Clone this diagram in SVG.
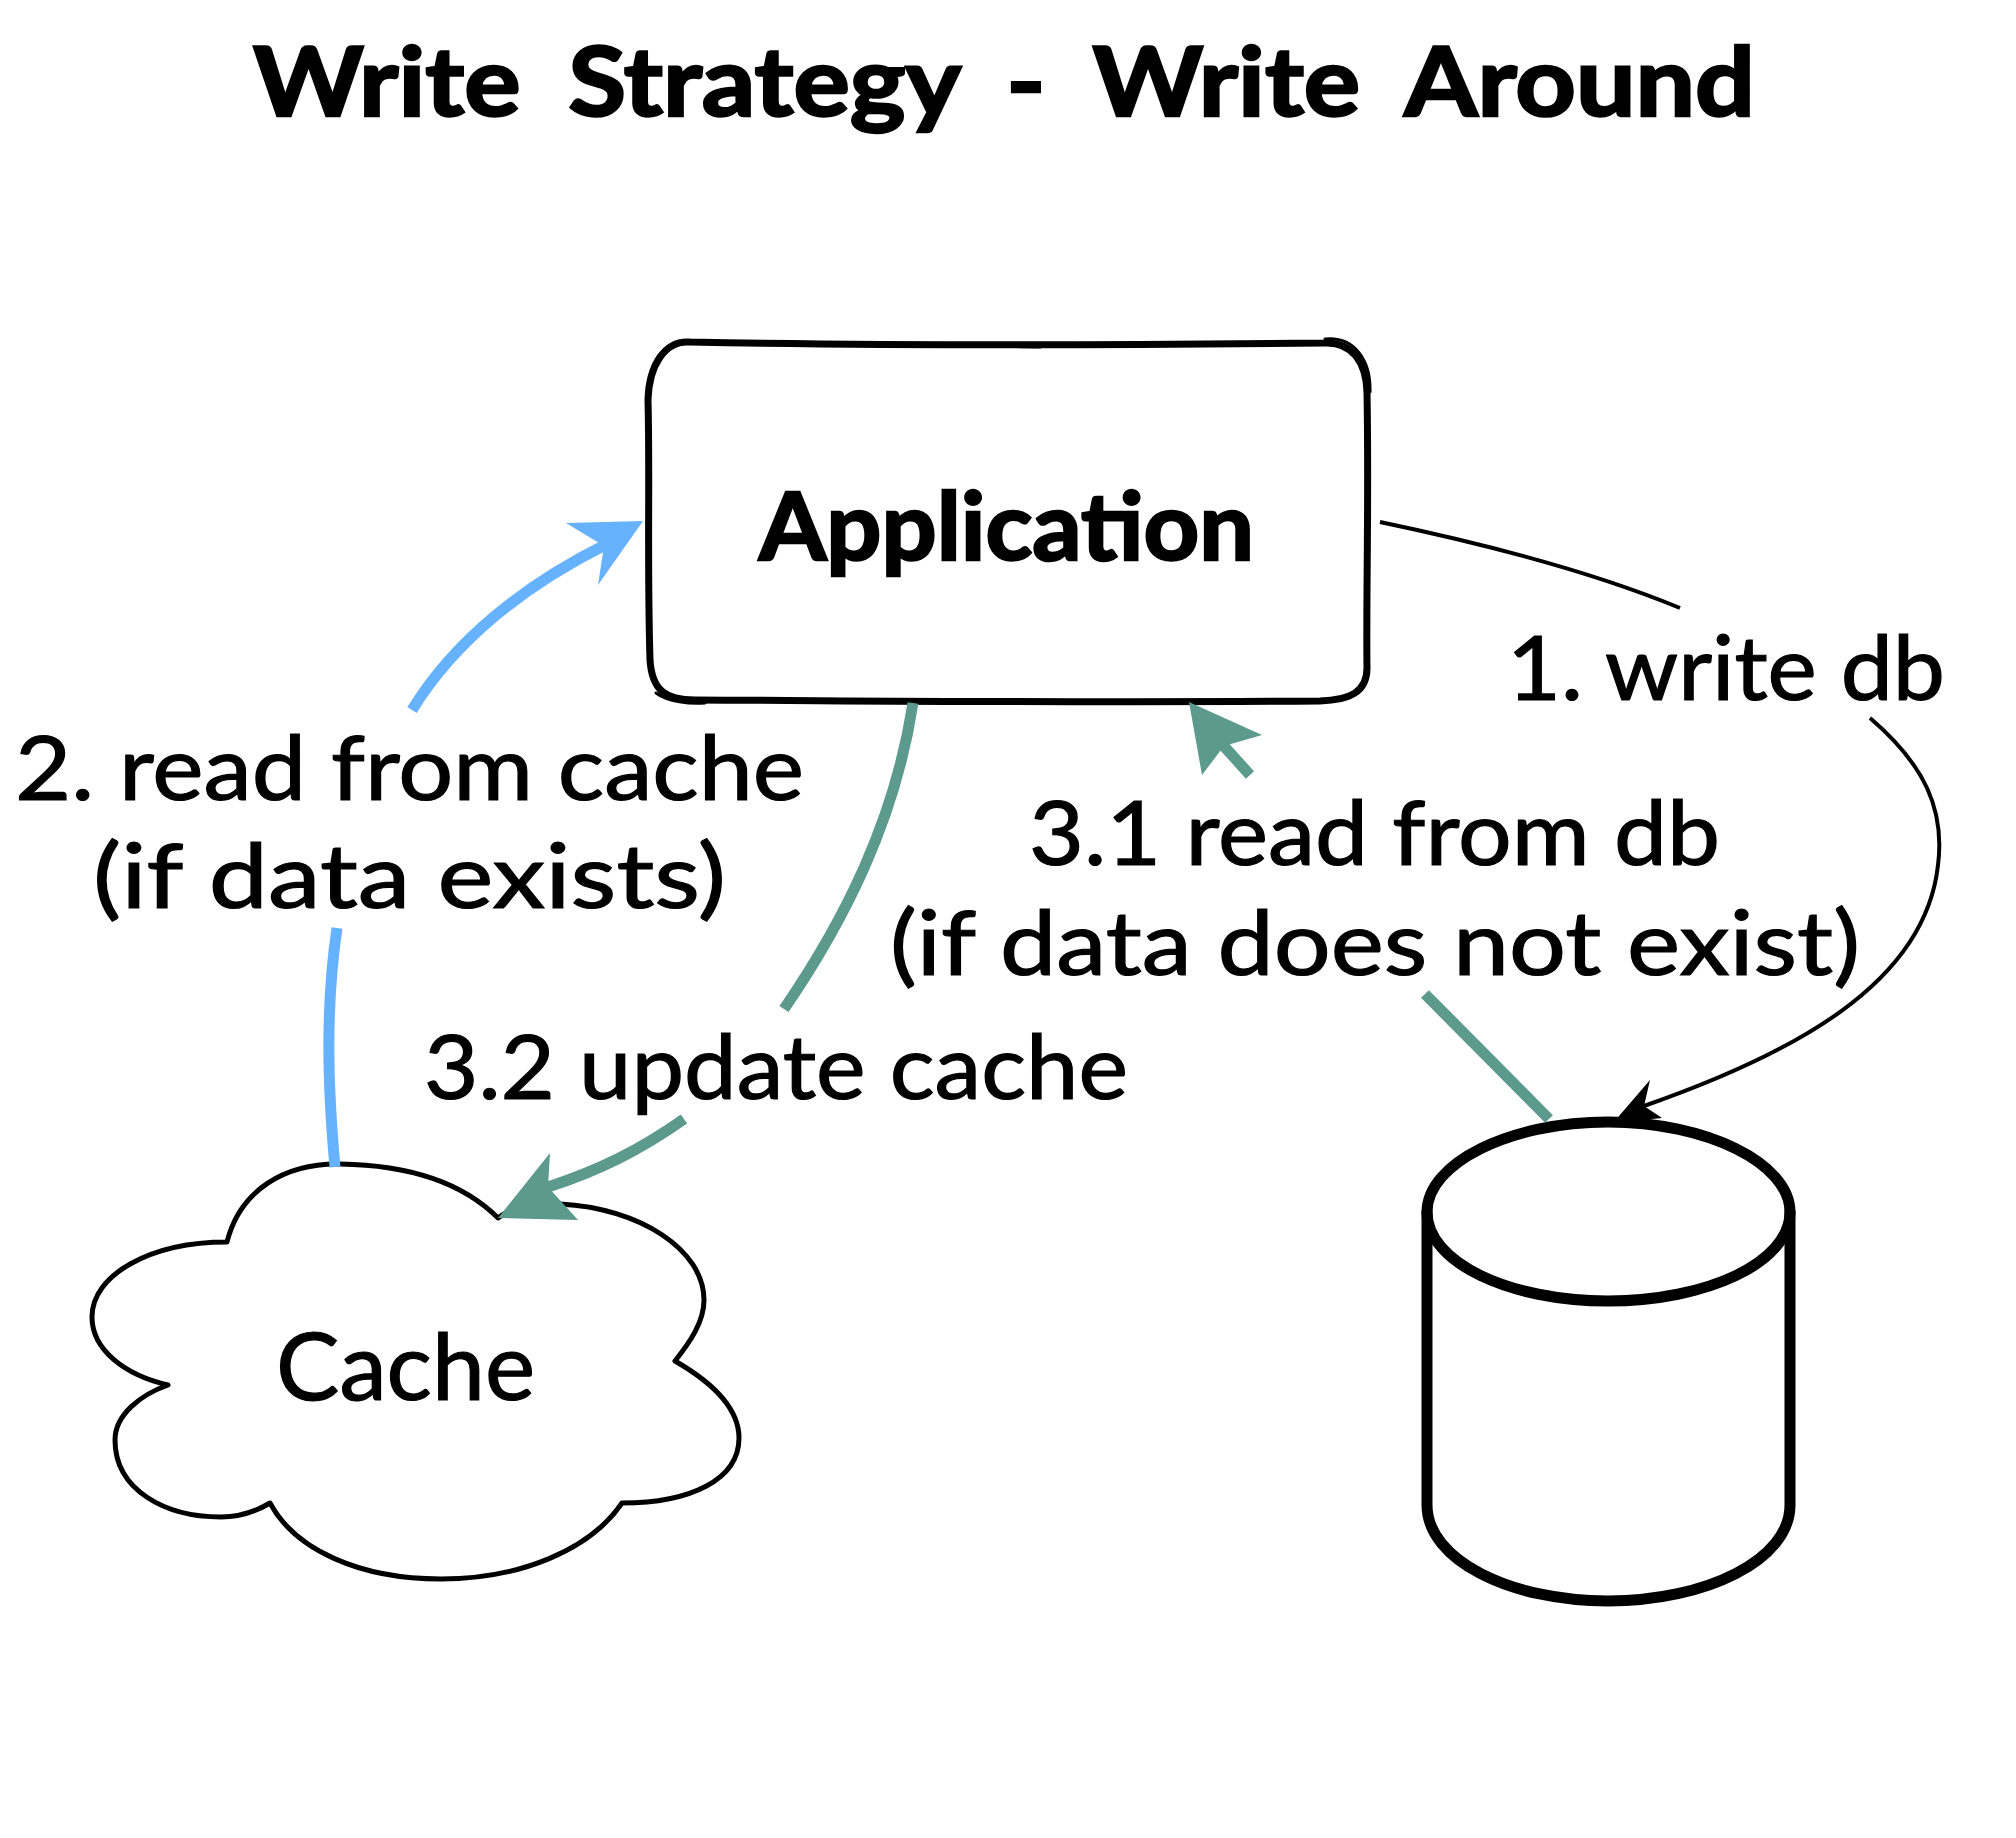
<svg xmlns="http://www.w3.org/2000/svg" width="2016" height="1838" viewBox="0 0 2016 1838">
<style>
text{font-family:"Lato","Noto Sans","Liberation Sans",sans-serif;fill:#000;stroke:#000;stroke-width:1.2px}
.t{font-size:90px;font-weight:400}
.b{font-weight:700;stroke-width:2.5px}
.s{fill:#fff;stroke:#000;stroke-linejoin:round;stroke-linecap:round}
.o{fill:none;stroke:#000;stroke-linecap:round}
.c{fill:none;stroke-linecap:butt}
.blue{stroke:#66b2ff;stroke-width:11}
.green{stroke:#5c9a8e;stroke-width:11}
.black{stroke:#000;stroke-width:4}
</style>
<rect width="2016" height="1838" fill="#fff" stroke="none"/>
<text id="title" class="b" x="253" y="116" font-size="96" word-spacing="20" textLength="1502" lengthAdjust="spacingAndGlyphs">Write Strategy - Write Around</text>
<g id="application">
<path class="s" stroke-width="7" d="M690 342C900 346 1130 345 1325 343C1352 342 1366 362 1367 392C1369 500 1366 600 1367 668C1367 692 1350 700 1320 701C1100 703 900 701 695 700C665 700 652 690 650 660C647 560 650 480 648 400C649 365 665 340 690 342Z"/>
<path class="o" stroke-width="3" d="M1325 339C1354 336 1371 360 1370 392M656 693C668 702 690 704 705 703M700 343C860 340 1000 347 1040 347"/>
<text class="b" x="759" y="560" font-size="94" textLength="495" lengthAdjust="spacingAndGlyphs">Application</text>
</g>
<g id="cache">
<path class="s" stroke-width="5" d="M227 1242C240 1190 285 1163 340 1164C405 1165 460 1180 498 1218C515 1205 535 1203 560 1204C640 1208 704 1250 704 1300C704 1322 690 1342 675 1361C708 1380 739 1405 739 1438C739 1480 690 1503 622 1503C590 1550 520 1579 441 1579C360 1579 295 1550 270 1503C255 1512 240 1517 221 1517C165 1517 115 1490 115 1440C115 1415 140 1395 168 1385C125 1375 92 1350 92 1317C92 1275 150 1242 227 1242Z"/>
<text x="276" y="1400" font-size="94" textLength="259" lengthAdjust="spacingAndGlyphs">Cache</text>
</g>
<g id="database">
<path class="s" stroke-width="11" d="M1427 1212C1427 1163 1510 1122 1608 1122C1706 1122 1790 1163 1790 1212V1505C1790 1560 1706 1601 1608 1601C1510 1601 1427 1560 1427 1505Z"/>
<path class="o" stroke-width="11" d="M1427 1212C1427 1263 1510 1301 1608 1301C1706 1301 1790 1263 1790 1212"/>
</g>
<g id="connectors">
<path class="c black" d="M1380 522C1490 545 1600 575 1680 608"/>
<path class="c black" d="M1870 718C1925 765 1945 810 1938 865C1925 985 1790 1055 1644 1106"/>
<polygon fill="#000" points="1613,1123 1650,1080 1644,1106 1662,1118"/>
<path class="c blue" d="M335 1167C328 1090 325 1010 337 928"/>
<path class="c blue" d="M412 710C455 640 525 585 605 545"/>
<polygon fill="#66b2ff" points="643,521 566,523 604,546 598,585"/>
<path class="c green" d="M913 703C895 820 845 920 784 1009"/>
<path class="c green" d="M684 1119C640 1150 600 1170 548 1187"/>
<polygon fill="#5c9a8e" points="498,1218 550,1153 548,1187 578,1220"/>
<path class="c green" d="M1549 1119L1425 994"/>
<path class="c green" d="M1250 775L1222 744"/>
<polygon fill="#5c9a8e" points="1189,702 1262,735 1224,746 1202,775"/>
<text class="t" x="1507" y="700" textLength="438" lengthAdjust="spacingAndGlyphs">1. write db</text>
<text class="t" x="15" y="800" textLength="789" lengthAdjust="spacingAndGlyphs">2. read from cache</text>
<text class="t" x="93" y="908" textLength="633" lengthAdjust="spacingAndGlyphs">(if data exists)</text>
<text class="t" x="1029" y="865" textLength="691" lengthAdjust="spacingAndGlyphs">3.1 read from db</text>
<text class="t" x="890" y="975" textLength="970" lengthAdjust="spacingAndGlyphs">(if data does not exist)</text>
<text class="t" x="424" y="1099" textLength="704" lengthAdjust="spacingAndGlyphs">3.2 update cache</text>
</g>
</svg>
